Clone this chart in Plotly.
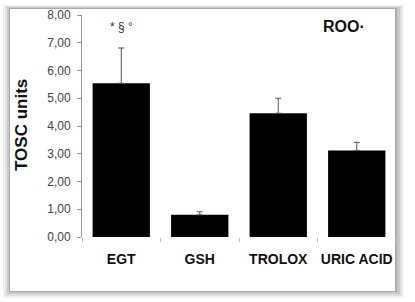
import plotly.graph_objects as go

categories = ["EGT", "GSH", "TROLOX", "URIC ACID"]
values = [5.54, 0.80, 4.46, 3.12]
errors_up = [1.27, 0.11, 0.54, 0.29]
y_ticks = [0, 1, 2, 3, 4, 5, 6, 7, 8]

W, H = 415, 302
L, R, T, B = 82, 19, 15, 65
pw, ph = W - L - R, H - T - B

def px(x):
    return (x - L) / pw

def py(y):
    return (H - B - y) / ph

fig = go.Figure()
fig.add_trace(go.Bar(
    x=categories, y=values,
    marker=dict(color="black", line=dict(width=0)),
    error_y=dict(type="data", array=errors_up, arrayminus=[0] * len(values),
                 symmetric=False, color="#555555", thickness=1, width=3),
))

shapes = []
# soft shadow layers
for (x0, y0, x1, y1, c) in [
    (3, 5, 404, 298, "#f2f2f2"),
    (5, 6, 402, 296, "#e0e0e0"),
    (7, 7, 400, 294, "#c8c8c8"),
    (9, 8, 397, 292, "#aaaaaa"),
]:
    shapes.append(dict(type="rect", xref="paper", yref="paper",
                       x0=px(x0), x1=px(x1), y0=py(y1), y1=py(y0),
                       fillcolor=c, line=dict(width=0), layer="below"))
shapes.append(dict(type="rect", xref="paper", yref="paper",
                   x0=px(10), x1=px(395), y0=py(291), y1=py(9),
                   fillcolor="white", line=dict(width=0), layer="below"))

fig.update_layout(
    width=W, height=H,
    margin=dict(l=L, r=R, t=T, b=B),
    paper_bgcolor="white", plot_bgcolor="rgba(0,0,0,0)",
    separators=",.",
    bargap=0.27,
    showlegend=False,
    font=dict(family="Liberation Sans, Arial, sans-serif"),
    shapes=shapes,
    xaxis=dict(
        showline=False, showgrid=False, zeroline=False,
        ticks="outside", tickson="boundaries", ticklen=4, tickcolor="#bbbbbb",
        tickfont=dict(size=14, color="#111111", weight="bold"),
        tickangle=0, automargin=False,
        ticklabelstandoff=12,
    ),
    yaxis=dict(
        range=[0, 8], tickvals=y_ticks, tickformat=".2f",
        showline=True, linecolor="#999999", linewidth=1,
        showgrid=False, zeroline=False, automargin=False,
        ticks="outside", ticklen=4, tickcolor="#999999",
        tickfont=dict(size=12, color="#444444"),
        ticklabelstandoff=4,
    ),
    annotations=[
        dict(text="TOSC units", textangle=-90, xref="paper", yref="paper",
             x=px(21), y=py(125), xanchor="center", yanchor="middle",
             showarrow=False,
             font=dict(size=17, color="#111111", weight="bold")),
        dict(text="* § °", xref="x", yref="paper", x="EGT", y=py(27),
             xanchor="center", yanchor="middle",
             showarrow=False, font=dict(size=12, color="#333333")),
        dict(text="ROO·", xref="paper", yref="paper", x=px(344), y=py(26),
             xanchor="center", yanchor="middle",
             showarrow=False, font=dict(size=16, color="#111111", weight="bold")),
    ],
)

fig.write_html("out.html")
